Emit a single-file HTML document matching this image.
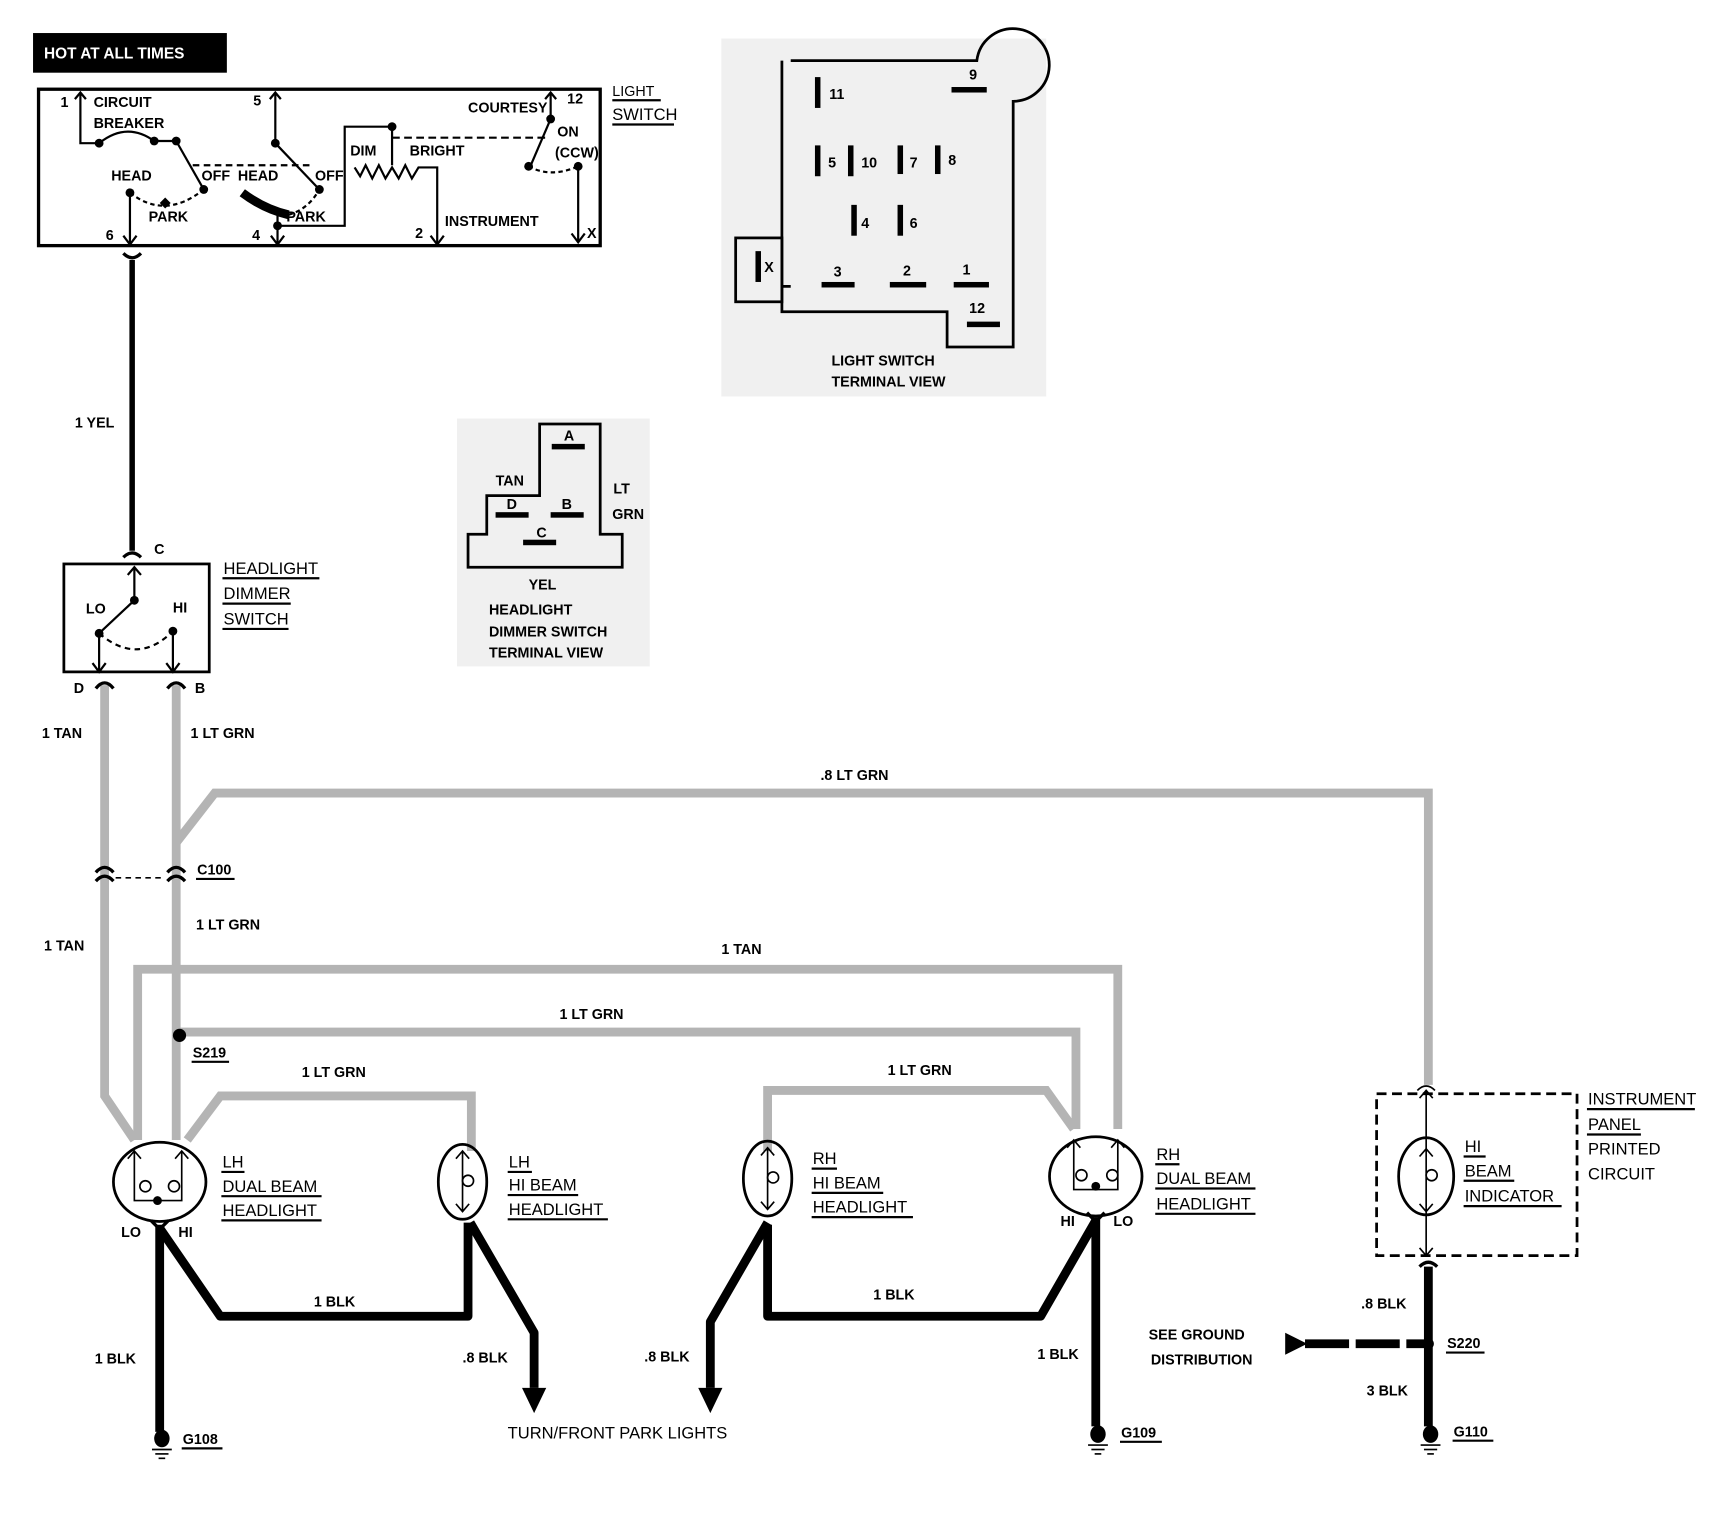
<!DOCTYPE html>
<html><head><meta charset="utf-8"><style>
html,body{margin:0;padding:0;background:#fff;width:1718px;height:1520px;overflow:hidden}
svg{display:block}
text{font-family:"Liberation Sans",sans-serif;font-weight:bold;font-size:13px;fill:#000}
.g{stroke:#b4b4b4;stroke-width:8;fill:none}
.k{stroke:#000;fill:none}
</style></head><body>
<svg width="1718" height="1520" viewBox="0 0 1560 1380" preserveAspectRatio="none" xmlns="http://www.w3.org/2000/svg">
<!-- stipple backgrounds -->
<rect x="655" y="35" width="295" height="325" fill="#f0f0f0"/>
<rect x="415" y="380" width="175" height="225" fill="#f0f0f0"/>

<!-- HOT AT ALL TIMES -->
<rect x="30" y="30" width="176" height="36" fill="#000"/>
<text x="40" y="53" style="fill:#fff;font-size:14px">HOT AT ALL TIMES</text>

<!-- Light switch -->
<rect x="35" y="81" width="510" height="142" class="k" stroke-width="3"/>
<text x="556" y="87" font-size="15" style="font-weight:normal">LIGHT</text>
<line x1="556" y1="91" x2="600" y2="91" stroke="#000" stroke-width="2"/>
<text x="556" y="109" style="font-weight:normal;font-size:15px">SWITCH</text>
<line x1="556" y1="113" x2="612" y2="113" stroke="#000" stroke-width="2"/>
<g class="k" stroke-width="2">
<polyline points="73,84 73,130 90,130"/>
<path d="M90,130 Q115,110 140,128"/>
<line x1="140" y1="128" x2="160" y2="128"/>
<line x1="160" y1="128" x2="185" y2="172"/>
<path d="M118,175 Q150,200 185,172" stroke-dasharray="4,3"/>
<line x1="118" y1="175" x2="118" y2="222"/>
<line x1="175" y1="150" x2="285" y2="150" stroke-dasharray="6,4"/>
<line x1="250" y1="84" x2="250" y2="130"/>
<line x1="250" y1="130" x2="290" y2="172"/>
<path d="M220,175 Q240,190 262,195" stroke-width="8"/>
<path d="M262,195 Q280,190 290,172" stroke-dasharray="4,3"/>
<line x1="252" y1="195" x2="252" y2="222"/>
<polyline points="252,205 313,205 313,115 356,115"/>
<line x1="356" y1="115" x2="356" y2="150"/>
<line x1="356" y1="125" x2="495" y2="125" stroke-dasharray="7,4"/>
<polyline points="322,152 327,160 332,150 338,162 344,150 350,162 356,152 362,162 368,150 374,162 380,152 397,152 397,222"/>
<line x1="500" y1="84" x2="500" y2="108"/>
<line x1="500" y1="108" x2="482" y2="150"/>
<path d="M480,151 Q500,162 525,151" stroke-dasharray="4,3"/>
<line x1="525" y1="151" x2="525" y2="220"/>
<polyline points="68,90 73,84 78,90"/><polyline points="245,90 250,84 255,90"/><polyline points="495,90 500,84 505,90"/>
<polyline points="112,214 118,222 124,214"/><polyline points="246,214 252,222 258,214"/><polyline points="391,214 397,222 403,214"/><polyline points="519,212 525,220 531,212"/>
</g>
<g fill="#000"><circle cx="90" cy="130" r="4"/><circle cx="140" cy="128" r="4"/><circle cx="160" cy="128" r="4"/><circle cx="185" cy="172" r="4"/><circle cx="118" cy="175" r="4"/><rect x="146" y="181" width="7" height="7" transform="rotate(45 150 185)"/><circle cx="250" cy="130" r="4"/><circle cx="290" cy="172" r="4"/><circle cx="252" cy="205" r="4"/><circle cx="356" cy="115" r="4"/><circle cx="500" cy="108" r="4"/><circle cx="480" cy="151" r="4"/><circle cx="525" cy="151" r="4"/></g>
<text x="55" y="97" font-size="12">1</text><text x="85" y="97" font-size="12">CIRCUIT</text><text x="85" y="116" font-size="12">BREAKER</text>
<text x="101" y="164" font-size="12">HEAD</text><text x="183" y="164" font-size="12">OFF</text><text x="216" y="164" font-size="12">HEAD</text><text x="286" y="164" font-size="12">OFF</text>
<text x="135" y="201" font-size="12">PARK</text><text x="260" y="201" font-size="12">PARK</text>
<text x="230" y="96" font-size="12">5</text><text x="96" y="218" font-size="12">6</text><text x="229" y="218" font-size="12">4</text><text x="377" y="216" font-size="12">2</text><text x="533" y="216" font-size="12">X</text>
<text x="318" y="141" font-size="12">DIM</text><text x="372" y="141" font-size="12">BRIGHT</text><text x="404" y="205" font-size="12">INSTRUMENT</text>
<text x="425" y="102" font-size="12">COURTESY</text><text x="515" y="94" font-size="12">12</text><text x="506" y="124" font-size="12">ON</text><text x="504" y="143" font-size="12">(CCW)</text>

<!-- Light switch terminal view -->
<g class="k" stroke-width="2.5">
<path d="M718,55 L887,55 A33,33 0 1 1 920,92 L920,315 L860,315 L860,283 L710,283 L710,55"/>
<rect x="668" y="216" width="42" height="58"/>
<line x1="710" y1="260" x2="718" y2="260"/>
</g>
<g fill="#000">
<rect x="740" y="70" width="5" height="28"/><rect x="740" y="132" width="5" height="28"/><rect x="770" y="132" width="5" height="28"/><rect x="815" y="132" width="5" height="26"/><rect x="849" y="132" width="5" height="26"/>
<rect x="773" y="186" width="5" height="28"/><rect x="815" y="186" width="5" height="28"/><rect x="686" y="228" width="5" height="28"/>
<rect x="864" y="79" width="32" height="5"/><rect x="746" y="256" width="30" height="5"/><rect x="808" y="256" width="33" height="5"/><rect x="866" y="256" width="32" height="5"/><rect x="878" y="292" width="30" height="5"/>
</g>
<text x="753" y="90" font-size="12">11</text><text x="880" y="72" font-size="12">9</text><text x="752" y="152" font-size="12">5</text><text x="782" y="152" font-size="12">10</text><text x="826" y="152" font-size="12">7</text><text x="861" y="150" font-size="12">8</text>
<text x="782" y="207" font-size="12">4</text><text x="826" y="207" font-size="12">6</text><text x="694" y="247" font-size="12">X</text>
<text x="757" y="251" font-size="12">3</text><text x="820" y="250" font-size="12">2</text><text x="874" y="249" font-size="12">1</text><text x="880" y="284" font-size="12">12</text>
<text x="755" y="332" font-size="12">LIGHT SWITCH</text><text x="755" y="351" font-size="12">TERMINAL VIEW</text>

<!-- Dimmer terminal view -->
<path d="M425,515 L425,485 L442,485 L442,450 L490,450 L490,385 L545,385 L545,485 L565,485 L565,515 Z" class="k" stroke-width="2.5"/>
<g fill="#000"><rect x="501" y="403" width="30" height="5"/><rect x="450" y="465" width="30" height="5"/><rect x="500" y="465" width="30" height="5"/><rect x="475" y="490" width="30" height="5"/></g>
<text x="512" y="400" font-size="11">A</text><text x="460" y="462" font-size="11">D</text><text x="510" y="462" font-size="11">B</text><text x="487" y="488" font-size="11">C</text>
<text x="450" y="441" font-size="12">TAN</text><text x="557" y="448" font-size="12">LT</text><text x="556" y="471" font-size="12">GRN</text>
<text x="480" y="535" font-size="12">YEL</text><text x="444" y="558" font-size="12">HEADLIGHT</text><text x="444" y="578" font-size="12">DIMMER SWITCH</text><text x="444" y="597" font-size="12">TERMINAL VIEW</text>

<!-- YEL wire -->
<line x1="120" y1="236" x2="120" y2="500" stroke="#000" stroke-width="5"/>
<path d="M112,230 Q120,238 128,230" class="k" stroke-width="3"/>
<path d="M112,506 Q120,498 128,506" class="k" stroke-width="3"/>
<text x="68" y="388" font-size="14">1 YEL</text>

<!-- Dimmer switch -->
<rect x="58" y="512" width="132" height="98" class="k" stroke-width="2.5"/>
<text x="140" y="503" font-size="13">C</text>
<g class="k" stroke-width="2">
<line x1="122" y1="515" x2="122" y2="545"/><polyline points="116,522 122,515 128,522"/>
<line x1="122" y1="545" x2="90" y2="575"/>
<path d="M90,575 Q125,605 157,573" stroke-dasharray="5,4"/>
<line x1="90" y1="575" x2="90" y2="610"/><line x1="157" y1="573" x2="157" y2="610"/>
<polyline points="84,602 90,610 96,602"/><polyline points="151,602 157,610 163,602"/>
</g>
<circle cx="122" cy="545" r="4"/><circle cx="90" cy="575" r="4"/><circle cx="157" cy="573" r="4"/>
<text x="78" y="557" font-size="10">LO</text><text x="157" y="556" font-size="10">HI</text>
<text x="203" y="521" style="font-weight:normal;font-size:15px">HEADLIGHT</text><line x1="202" y1="525" x2="290" y2="525" stroke="#000" stroke-width="2"/>
<text x="203" y="544" style="font-weight:normal;font-size:15px">DIMMER</text><line x1="202" y1="548" x2="264" y2="548" stroke="#000" stroke-width="2"/>
<text x="203" y="567" style="font-weight:normal;font-size:15px">SWITCH</text><line x1="202" y1="571" x2="262" y2="571" stroke="#000" stroke-width="2"/>
<text x="67" y="629" font-size="13">D</text><text x="177" y="629" font-size="13">B</text>

<!-- gray wires -->
<polyline class="g" points="95,622 95,995 122,1035"/>
<polyline class="g" points="160,622 160,1035"/>
<polyline class="g" points="160,765 195,720 1297,720 1297,985"/>
<polyline class="g" points="125,1035 125,880 1015,880 1015,1025"/>
<polyline class="g" points="163,937 977,937 977,1025"/>
<polyline class="g" points="170,1035 200,995 428,995 428,1045"/>
<polyline class="g" points="697,1045 697,990 950,990 975,1025"/>
<g class="k" stroke-width="3">
<path d="M87,625 Q95,615 103,625"/><path d="M152,625 Q160,615 168,625"/>
<path d="M87,792 Q95,783 103,792"/><path d="M87,800 Q95,791 103,800"/>
<path d="M152,792 Q160,783 168,792"/><path d="M152,800 Q160,791 168,800"/>
<line x1="105" y1="797" x2="150" y2="797" stroke-width="1.5" stroke-dasharray="5,4"/>
</g>
<circle cx="163" cy="940" r="6" fill="#000"/>
<text x="38" y="670" font-size="14">1 TAN</text><text x="173" y="670" font-size="14">1 LT GRN</text>
<text x="745" y="708" font-size="14">.8 LT GRN</text>
<text x="179" y="794" font-size="14">C100</text><line x1="178" y1="798" x2="213" y2="798" stroke="#000" stroke-width="2"/>
<text x="178" y="844" font-size="14">1 LT GRN</text><text x="40" y="863" font-size="14">1 TAN</text>
<text x="655" y="866" font-size="14">1 TAN</text><text x="508" y="925" font-size="14">1 LT GRN</text>
<text x="175" y="960" font-size="13">S219</text><line x1="174" y1="964" x2="208" y2="964" stroke="#000" stroke-width="2"/>
<text x="274" y="978" font-size="14">1 LT GRN</text><text x="806" y="976" font-size="14">1 LT GRN</text>

<!-- headlights -->
<g class="k" stroke-width="2.5">
<ellipse cx="145" cy="1073" rx="42" ry="36"/>
<ellipse cx="420" cy="1073" rx="22" ry="34"/>
<ellipse cx="697" cy="1070" rx="22" ry="34"/>
<ellipse cx="995" cy="1068" rx="42" ry="36"/>
<ellipse cx="1295" cy="1068" rx="25" ry="35"/>
<rect x="1250" y="993" width="182" height="147" stroke-dasharray="9,5"/>
</g>
<g class="k" stroke-width="1.5">
<path d="M122,1045 L122,1090 L165,1090 L165,1045 M116,1052 L122,1045 L128,1052 M159,1052 L165,1045 L171,1052"/>
<circle cx="132" cy="1077" r="5"/><circle cx="158" cy="1077" r="5"/>
<path d="M975,1035 L975,1080 L1015,1080 L1015,1035 M969,1042 L975,1035 L981,1042 M1009,1042 L1015,1035 L1021,1042"/>
<circle cx="982" cy="1067" r="5"/><circle cx="1010" cy="1067" r="5"/>
<path d="M420,1045 L420,1100 M414,1052 L420,1045 L426,1052 M414,1093 L420,1100 L426,1093"/><circle cx="425" cy="1072" r="5"/>
<path d="M697,1042 L697,1098 M691,1049 L697,1042 L703,1049 M691,1091 L697,1098 L703,1091"/><circle cx="702" cy="1069" r="5"/>
<path d="M1295,990 L1295,1140 M1289,997 L1295,990 L1301,997 M1289,1050 L1295,1043 L1301,1050 M1289,1093 L1295,1100 L1301,1093 M1289,1133 L1295,1140 L1301,1133"/><circle cx="1300" cy="1067" r="5"/>
<path d="M1287,990 Q1295,982 1303,990"/>
</g>
<circle cx="143" cy="1090" r="4" fill="#000"/><circle cx="995" cy="1077" r="4" fill="#000"/>
<text x="202" y="1060" style="font-weight:normal;font-size:15px">LH</text><line x1="201" y1="1064" x2="222" y2="1064" stroke="#000" stroke-width="2"/>
<text x="202" y="1082" style="font-weight:normal;font-size:15px">DUAL BEAM</text><line x1="201" y1="1086" x2="292" y2="1086" stroke="#000" stroke-width="2"/>
<text x="202" y="1104" style="font-weight:normal;font-size:15px">HEADLIGHT</text><line x1="201" y1="1108" x2="292" y2="1108" stroke="#000" stroke-width="2"/>
<text x="462" y="1060" style="font-weight:normal;font-size:15px">LH</text><line x1="461" y1="1064" x2="483" y2="1064" stroke="#000" stroke-width="2"/>
<text x="462" y="1081" style="font-weight:normal;font-size:15px">HI BEAM</text><line x1="461" y1="1085" x2="525" y2="1085" stroke="#000" stroke-width="2"/>
<text x="462" y="1103" style="font-weight:normal;font-size:15px">HEADLIGHT</text><line x1="461" y1="1107" x2="552" y2="1107" stroke="#000" stroke-width="2"/>
<text x="738" y="1057" style="font-weight:normal;font-size:15px">RH</text><line x1="737" y1="1061" x2="760" y2="1061" stroke="#000" stroke-width="2"/>
<text x="738" y="1079" style="font-weight:normal;font-size:15px">HI BEAM</text><line x1="737" y1="1083" x2="802" y2="1083" stroke="#000" stroke-width="2"/>
<text x="738" y="1101" style="font-weight:normal;font-size:15px">HEADLIGHT</text><line x1="737" y1="1105" x2="829" y2="1105" stroke="#000" stroke-width="2"/>
<text x="1050" y="1053" style="font-weight:normal;font-size:15px">RH</text><line x1="1049" y1="1057" x2="1071" y2="1057" stroke="#000" stroke-width="2"/>
<text x="1050" y="1075" style="font-weight:normal;font-size:15px">DUAL BEAM</text><line x1="1049" y1="1079" x2="1140" y2="1079" stroke="#000" stroke-width="2"/>
<text x="1050" y="1098" style="font-weight:normal;font-size:15px">HEADLIGHT</text><line x1="1049" y1="1102" x2="1140" y2="1102" stroke="#000" stroke-width="2"/>
<text x="1330" y="1046" style="font-weight:normal;font-size:15px">HI</text><line x1="1329" y1="1050" x2="1349" y2="1050" stroke="#000" stroke-width="2"/>
<text x="1330" y="1068" style="font-weight:normal;font-size:15px">BEAM</text><line x1="1329" y1="1072" x2="1375" y2="1072" stroke="#000" stroke-width="2"/>
<text x="1330" y="1091" style="font-weight:normal;font-size:15px">INDICATOR</text><line x1="1329" y1="1095" x2="1418" y2="1095" stroke="#000" stroke-width="2"/>
<text x="1442" y="1003" style="font-weight:normal;font-size:15px">INSTRUMENT</text><line x1="1441" y1="1007" x2="1539" y2="1007" stroke="#000" stroke-width="2"/>
<text x="1442" y="1026" style="font-weight:normal;font-size:15px">PANEL</text><line x1="1441" y1="1030" x2="1490" y2="1030" stroke="#000" stroke-width="2"/>
<text x="1442" y="1048" style="font-weight:normal;font-size:15px">PRINTED</text>
<text x="1442" y="1071" style="font-weight:normal;font-size:15px">CIRCUIT</text>
<text x="110" y="1123" font-size="13">LO</text><text x="162" y="1123" font-size="13">HI</text>
<text x="963" y="1113" font-size="13">HI</text><text x="1011" y="1113" font-size="13">LO</text>

<!-- black wires -->
<g class="k" stroke-width="8" stroke-linejoin="round">
<polyline points="145,1112 145,1300"/>
<polyline points="145,1115 200,1195 425,1195 425,1110"/>
<polyline points="427,1110 485,1210 485,1260"/>
<polyline points="697,1110 645,1200 645,1260"/>
<polyline points="697,1112 697,1195 945,1195 995,1108"/>
<polyline points="995,1105 995,1295"/>
<polyline points="1297,1150 1297,1295"/>
<line x1="1185" y1="1220" x2="1297" y2="1220" stroke-dasharray="40,6"/>
</g>
<g class="k" stroke-width="3"><path d="M137,1108 L145,1116 L153,1108"/><path d="M987,1101 L995,1109 L1003,1101"/><path d="M1289,1150 Q1297,1142 1305,1150"/></g>
<polygon points="474,1260 496,1260 485,1283" fill="#000"/>
<polygon points="634,1260 656,1260 645,1283" fill="#000"/>
<polygon points="1167,1210 1167,1230 1187,1220" fill="#000"/>
<circle cx="1297" cy="1220" r="5" fill="#000"/>
<g fill="#000"><ellipse cx="147" cy="1306" rx="7" ry="8"/><ellipse cx="997" cy="1302" rx="7" ry="8"/><ellipse cx="1299" cy="1302" rx="7" ry="8"/></g>
<g stroke="#000" stroke-width="1.5"><line x1="138" y1="1316" x2="156" y2="1316"/><line x1="141" y1="1320" x2="153" y2="1320"/><line x1="144" y1="1324" x2="150" y2="1324"/>
<line x1="988" y1="1312" x2="1006" y2="1312"/><line x1="991" y1="1316" x2="1003" y2="1316"/><line x1="994" y1="1320" x2="1000" y2="1320"/>
<line x1="1290" y1="1312" x2="1308" y2="1312"/><line x1="1293" y1="1316" x2="1305" y2="1316"/><line x1="1296" y1="1320" x2="1302" y2="1320"/></g>
<text x="285" y="1186" font-size="14">1 BLK</text><text x="793" y="1180" font-size="14">1 BLK</text>
<text x="86" y="1238" font-size="14">1 BLK</text><text x="420" y="1237" font-size="14">.8 BLK</text><text x="585" y="1236" font-size="14">.8 BLK</text><text x="942" y="1234" font-size="14">1 BLK</text>
<text x="1236" y="1188" font-size="14">.8 BLK</text><text x="1241" y="1267" font-size="14">3 BLK</text>
<text x="1043" y="1216" font-size="14">SEE GROUND</text><text x="1045" y="1239" font-size="14">DISTRIBUTION</text>
<text x="1314" y="1224" font-size="14">S220</text><line x1="1313" y1="1228" x2="1348" y2="1228" stroke="#000" stroke-width="2"/>
<text x="166" y="1311" font-size="14">G108</text><line x1="165" y1="1315" x2="202" y2="1315" stroke="#000" stroke-width="2"/>
<text x="1018" y="1305" font-size="14">G109</text><line x1="1017" y1="1309" x2="1055" y2="1309" stroke="#000" stroke-width="2"/>
<text x="1320" y="1304" font-size="14">G110</text><line x1="1319" y1="1308" x2="1356" y2="1308" stroke="#000" stroke-width="2"/>
<text x="461" y="1306" style="font-weight:normal;font-size:15px">TURN/FRONT PARK LIGHTS</text>
</svg>
</body></html>
